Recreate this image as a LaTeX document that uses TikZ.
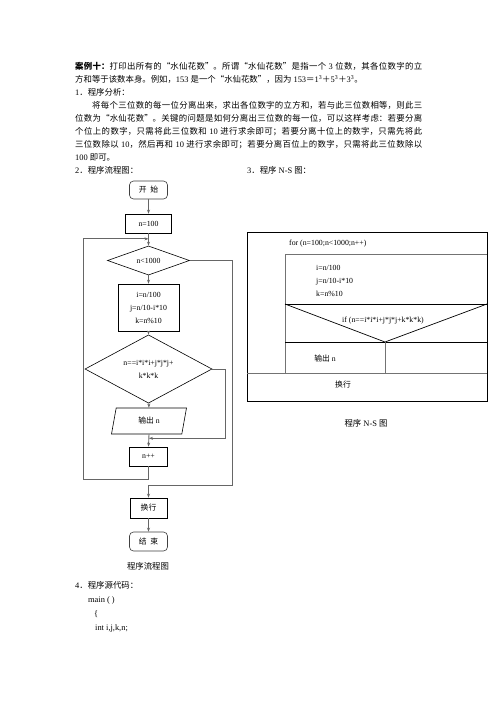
\documentclass[tikz,border=0pt]{standalone}
\usepackage{fontspec}
\setmainfont{Liberation Serif}
\newfontfamily\cjk{Noto Sans CJK SC}
\usetikzlibrary{shapes.geometric,arrows.meta,calc}
\newcommand\zhs[1]{{\cjk #1}}
\XeTeXlinebreaklocale "zh"
\XeTeXlinebreakskip=0pt plus 1pt minus 0.3pt
\tikzset{
  body/.style={inner sep=0, font=\fontsize{8.4}{13}\selectfont},
  dtext/.style={inner sep=0, font=\fontsize{7.8}{13}\selectfont},
  fbox/.style={draw=black, line width=0.6pt, inner sep=0, font=\fontsize{7.8}{13}\selectfont, align=center},
  rbox/.style={fbox, draw=black!75, rounded corners=4pt},
  dia/.style={fbox, shape=diamond},
  conn/.style={draw=black!60, line width=0.9pt, -{Stealth[length=4pt,width=3pt]}},
  nsblack/.style={draw=black, line width=0.7pt},
  nsgray/.style={draw=black!55, line width=1pt}
}
\begin{document}
\begin{tikzpicture}[x=1pt,y=-1pt]
\fill[white] (0,0) rectangle (496,702);
\path[use as bounding box] (0,0) rectangle (496,702);

% ---------- body text ----------
\node[body, anchor=base west] (p1) at (75,69.5) {\parbox[t]{347pt}{\setlength\parindent{0pt}%
{\bfseries\zhs{案例十：}}\zhs{打印出所有的“水仙花数”。所谓“水仙花数”是指一个} 3 \zhs{位数，其各位数字的立}\linebreak
\zhs{方和等于该数本身。例如，}153 \zhs{是一个“水仙花数”，因为} 153\zhs{＝}1\textsuperscript{3}\zhs{＋}5\textsuperscript{3}\zhs{＋}3\textsuperscript{3}\zhs{。}}};
\node[body, anchor=base west] (p2) at (75,95.5) {1\zhs{．程序分析：}};
\node[body, anchor=base west] (p3) at (75,108.5) {\parbox[t]{347pt}{\setlength\parindent{0pt}%
\hspace*{17pt}\zhs{将每个三位数的每一位分离出来，求出各位数字的立方和，若与此三位数相等，则此三}\linebreak
\zhs{位数为“水仙花数”。关键的问题是如何分离出三位数的每一位，可以这样考虑：若要分离}\linebreak
\zhs{个位上的数字，只需将此三位数和} 10 \zhs{进行求余即可；若要分离十位上的数字，只需先将此}\linebreak
\zhs{三位数除以} 10\zhs{，然后再和} 10 \zhs{进行求余即可；若要分离百位上的数字，只需将此三位数除以}\linebreak
100 \zhs{即可。}}};
\node[body, anchor=base west] (h2) at (75,173.5) {2\zhs{．程序流程图：}};
\node[body, anchor=base west] (h3) at (247,173.5) {3\zhs{．程序} N-S \zhs{图：}};

% ---------- flowchart ----------
\node[rbox, minimum width=38pt, minimum height=18pt] (start) at (148.5,190) {\zhs{开\enspace 始}};
\node[fbox, minimum width=46pt, minimum height=19pt] (n100) at (148.5,223.5) {n=100};
\node[dia, minimum width=82pt, minimum height=29pt] (d1) at (148.5,260.5) {n<1000};
\node[fbox, minimum width=61pt, minimum height=47pt] (b1) at (148.5,307.5) {i=n/100\\j=n/10-i*10\\k=n\%10};
\node[dia, minimum width=127pt, minimum height=52pt] (d2) at (148.5,369) {n==i*i*i+j*j*j+\\k*k*k};
\node[fbox, shape=trapezium, trapezium left angle=57, trapezium right angle=123, trapezium stretches body, minimum width=75pt, minimum height=26pt] (out) at (149,421) {\zhs{输出} n};
\node[fbox, minimum width=38pt, minimum height=19pt] (npp) at (148.5,456.5) {n++};
\node[fbox, minimum width=37pt, minimum height=20pt] (hh) at (148.5,508) {\zhs{换行}};
\node[rbox, minimum width=38pt, minimum height=19pt] (end) at (148.5,541.5) {\zhs{结\enspace 束}};
\node[body] (fcap) at (148,566) {\zhs{程序流程图}};

\coordinate (m0) at ($(n100.south)!0.45!(d1.north)$);
\coordinate (m1) at ($(out.south)+(0,4)$);
\coordinate (m2) at ($(hh.north)+(0,-12)$);

\draw[conn] (start) -- (n100);
\draw[conn] (n100) -- (d1);
\draw[conn] (d1) -- (b1);
\draw[conn] (b1) -- (d2);
\draw[conn] (d2) -- (out);
\draw[conn] (out.south) -- (npp.north);
\draw[conn] (d2.east) -- ++(13,0) |- (m1);
\draw[conn] (npp.south) -- ++(0,13) -| ($(m0)+(-65.5,0)$) -- (m0);
\draw[conn] (d1.east) -- ++(43,0) |- (m2) -- (hh.north);
\draw[conn] (hh) -- (end);

% ---------- N-S diagram ----------
\draw[nsblack] (247,232) rectangle (487,401);
\draw[nsgray] (285,254) -- (487,254);
\draw[nsgray] (285,254) -- (285,373);
\draw[nsblack] (285,304) -- (487,304);
\draw[nsblack] (285,304) -- (385,342) -- (487,304);
\draw[nsblack] (285,342) -- (487,342);
\draw[nsgray] (385,342) -- (385,373);
\draw[nsgray] (247,373) -- (487,373);

\node[dtext, anchor=base west] (nsfor) at (289,245) {for (n=100;n<1000;n++)};
\node[dtext, anchor=west, align=left] (nsbody) at (316,281) {i=n/100\\j=n/10-i*10\\k=n\%10};
\node[dtext] (nsif) at (383,321) {if (n==i*i*i+j*j*j+k*k*k)};
\node[dtext] (nsout) at (325,359) {\zhs{输出} n};
\node[dtext] (nshh) at (343,385) {\zhs{换行}};
\node[body] (nscap) at (366,423) {\zhs{程序} N-S \zhs{图}};

% ---------- code ----------
\node[body, anchor=base west] (c0) at (75,588) {4\zhs{．程序源代码：}};
\node[body, anchor=base west] (c1) at (88,602) {main ( )};
\node[body, anchor=base west] (c2) at (94,616) {\{};
\node[body, anchor=base west] (c3) at (95,630) {int i,j,k,n;};
\end{tikzpicture}
\end{document}
